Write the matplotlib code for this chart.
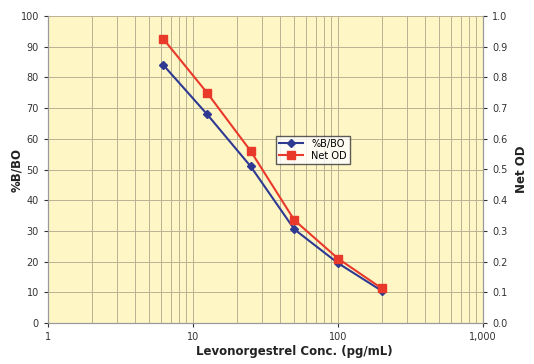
import matplotlib
matplotlib.use('Agg')
import matplotlib.pyplot as plt
from matplotlib.ticker import NullFormatter

conc = [6.25, 12.5, 25, 50, 100, 200]
b_b0 = [84, 68, 51, 30.5, 19.5, 10.5]
net_od = [0.925, 0.75, 0.56, 0.335, 0.21, 0.113]
x_ticks = [1, 10, 100, 1000]
x_labels = ['1', '10', '100', '1,000']

plt.rcParams['font.family'] = ['DejaVu Sans']

fig = plt.figure(figsize=(5.34, 3.64), dpi=100)
ax = fig.add_axes([48/534, 1 - 323/364, 435/534, 307/364])
ax.set_facecolor('#fff6c6')

ax.set_xscale('log')
ax.set_xlim(1, 1000)
ax.set_ylim(0, 100)
ax.set_xticks(x_ticks)
ax.set_xticklabels(x_labels)
ax.xaxis.set_minor_formatter(NullFormatter())
ax.set_yticks(range(0, 101, 10))
gc = '#b8b294'
ax.grid(True, which='both', axis='x', color=gc, linewidth=0.7)
ax.grid(True, which='major', axis='y', color=gc, linewidth=0.7)
ax.set_axisbelow(True)

l1, = ax.plot(conc, b_b0, color='#2e3a92', marker='D', markersize=4, linewidth=1.5)

ax2 = ax.twinx()
ax2.set_ylim(0, 1.0)
ax2.set_yticks([i / 10 for i in range(11)])
ax2.set_yticklabels(['%.1f' % (i / 10) for i in range(11)])
l2, = ax2.plot(conc, net_od, color='#e8392a', marker='s', markersize=6, linewidth=1.5)

for a in (ax, ax2):
    for s in a.spines.values():
        s.set_color('#999999')
    a.tick_params(labelsize=7, colors='#333333', length=3, which='major')
    a.tick_params(which='minor', length=0)
    a.spines['top'].set_visible(False)

ax.set_xlabel('Levonorgestrel Conc. (pg/mL)', fontsize=8.5, fontweight='bold', color='#222222')
ax.xaxis.set_label_coords(0.566, -0.073)
ax.set_ylabel('%B/BO', fontsize=8.5, fontweight='bold', color='#222222')
ax.yaxis.set_label_coords(-0.057, 0.5)
ax2.set_ylabel('Net OD', fontsize=8.5, fontweight='bold', color='#222222')
ax2.yaxis.set_label_coords(1.074, 0.5)

leg = ax2.legend([l1, l2], ['%B/BO', 'Net OD'], loc='upper left', bbox_to_anchor=(0.513, 0.625),
                 fontsize=7, frameon=True, fancybox=False, handlelength=2.5, borderpad=0.3,
                 labelspacing=0.2)
leg.get_frame().set_edgecolor('#333333')
leg.get_frame().set_facecolor('white')

fig.savefig('out.png', dpi=100)
